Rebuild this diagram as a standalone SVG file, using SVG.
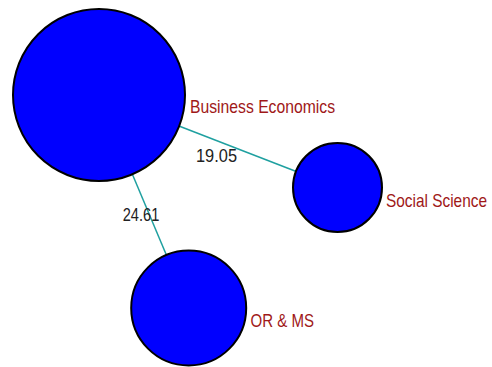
<svg xmlns="http://www.w3.org/2000/svg" width="492" height="367" viewBox="0 0 492 367">
<style>
.node{fill:#0000ff;stroke:#000;stroke-width:2}
.edge{stroke:#1fa0a0;stroke-width:1.5;fill:none}
.lbl{font-family:"Liberation Sans",Arial,sans-serif;font-size:15.5px;fill:#a01818}
.num{font-family:"Liberation Sans",Arial,sans-serif;font-size:15.5px;fill:#222}
</style>
<rect width="492" height="367" fill="#fff"/>
<g id="connectors">
<line class="edge" x1="99" y1="95" x2="337.5" y2="187.5"/>
<line class="edge" x1="99" y1="95" x2="188.7" y2="308"/>
</g>
<g id="node-business-economics">
<circle class="node" cx="99" cy="95" r="86"/>
<text class="lbl" transform="translate(190,112.7) scale(1,1.2)" textLength="145" lengthAdjust="spacingAndGlyphs">Business Economics</text>
</g>
<g id="node-social-science">
<circle class="node" cx="337.5" cy="187.5" r="44.5"/>
<text class="lbl" transform="translate(386,206.7) scale(1,1.2)" textLength="101" lengthAdjust="spacingAndGlyphs">Social Science</text>
</g>
<g id="node-or-ms">
<circle class="node" cx="188.7" cy="308" r="57.5"/>
<text class="lbl" transform="translate(250.5,326.7) scale(1,1.2)" textLength="63.5" lengthAdjust="spacingAndGlyphs">OR &amp; MS</text>
</g>
<g id="edge-labels">
<text class="num" transform="translate(196,161.7) scale(1,1.2)" textLength="41" lengthAdjust="spacingAndGlyphs">19.05</text>
<text class="num" transform="translate(122.7,221.3) scale(1,1.2)" textLength="36.6" lengthAdjust="spacingAndGlyphs">24.61</text>
</g>
</svg>
